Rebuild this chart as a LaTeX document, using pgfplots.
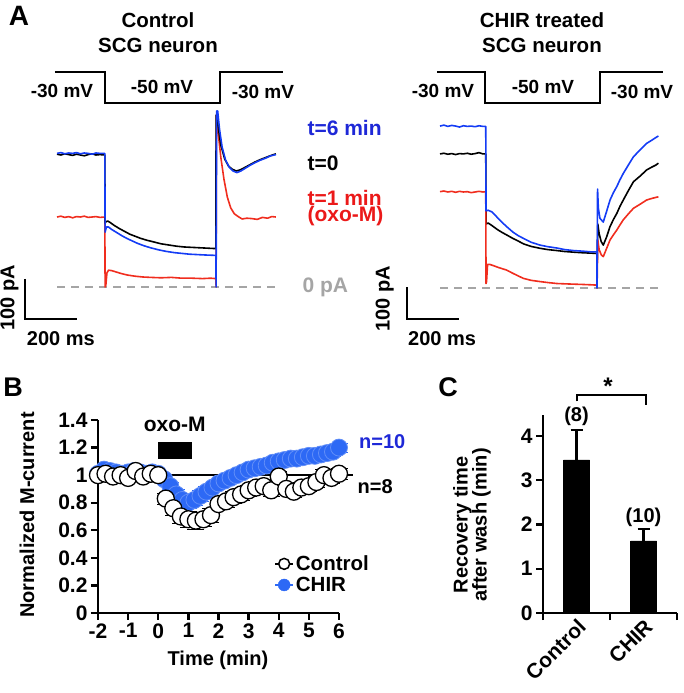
\documentclass[border=0pt]{standalone}
\usepackage{fontspec}
\setmainfont{Liberation Sans}
\usepackage{pgfplots}
\pgfplotsset{compat=1.18}

\definecolor{tblue}{RGB}{20,60,245}
\definecolor{tred}{RGB}{240,45,30}
\definecolor{lblue}{RGB}{30,40,215}
\definecolor{lred}{RGB}{235,25,25}
\definecolor{zgray}{RGB}{165,165,165}
\definecolor{mblue}{RGB}{45,105,245}

\newcommand{\fs}[1]{\fontsize{#1}{#1}\selectfont}

\pgfplotsset{
  trace/.style={hide axis, clip=false, anchor=south west, x=0.26pt},
  tr/.style={line width=1.6pt, line join=round},
  panel/.style={
    clip=false, anchor=south west,
    axis x line*=bottom, axis y line*=left,
    axis line style={line width=2.4pt},
    tick align=outside, major tick length=7pt,
    every tick/.style={line width=2.4pt, black},
    tick label style={font=\bfseries\fs{21}},
    /pgf/number format/assume math mode=true,
  },
}

\begin{document}
\begin{tikzpicture}[x=1pt, y=1pt, font=\bfseries\fs{20}]
\useasboundingbox (0,0) rectangle (684,693);

% ---------------- panel A, left ----------------
\node[font=\bfseries\fs{28}] at (19,677) {A};
\node[font=\bfseries\fs{20.5}] at (158,673) {Control};
\node[font=\bfseries\fs{20.5}] at (158,648) {SCG neuron};

\begin{axis}[trace, at={(57pt,590pt)}, xmin=0, xmax=842, ymin=-50, ymax=-30, y=1.55pt]
\addplot[line width=1.8pt] coordinates {(-8,-30) (185,-30) (185,-50) (627,-50) (627,-30) (869,-30)};
\node[font=\bfseries\fs{19}] at (axis cs:19,-42.3) {-30 mV};
\node[font=\bfseries\fs{19}] at (axis cs:404,-39.7) {-50 mV};
\node[font=\bfseries\fs{19}] at (axis cs:792,-43) {-30 mV};
\end{axis}

\begin{axis}[trace, at={(57pt,406pt)}, xmin=0, xmax=842, ymin=0, ymax=430, y=0.4pt]
\addplot[zgray, line width=2pt, dash pattern=on 8pt off 6pt] coordinates {(0,0) (842,0)};
\addplot[tr, tred] table {
0 175
15 177
30 174
45 176
60 173
75 176
90 175
105 177
120 174
135 175
150 176
165 174
184 175
185 0
188 5
192 35
198 42
210 41
225 38
245 34
270 30
300 27
330 25
360 24
400 23
440 24
480 22
520 22
560 21
590 22
611 21
612 0
613 430
620 385
630 325
642 270
655 225
668 198
682 183
697 176
712 170
730 172
750 171
770 169
790 174
810 172
826 176
842 175
};
\addplot[tr, black] table {
0 332
15 330
30 333
45 331
60 329
75 332
90 330
105 328
120 331
135 333
150 330
165 331
184 330
185 160
188 163
195 165
205 161
220 154
240 146
260 139
280 132
300 127
320 122
345 117
370 113
400 108
430 105
460 102
490 100
520 99
550 98
580 97
611 96
612 430
620 400
630 355
645 320
660 302
675 294
690 290
705 293
720 298
740 305
760 312
780 318
800 323
820 328
842 333
};
\addplot[tr, tblue] table {
0 334
15 336
30 333
45 335
60 334
75 336
90 333
105 335
120 334
135 332
150 335
165 334
184 334
185 137
190 150
198 150
210 144
230 136
250 128
270 121
290 115
310 109
335 103
360 98
390 93
420 89
450 86
480 84
510 82
540 81
570 80
611 79
612 0
614 440
618 440
625 395
635 350
648 318
662 300
677 290
692 286
707 290
722 296
742 304
762 311
782 317
802 322
822 328
842 331
};
% scale bars
\addplot[line width=2.2pt] coordinates {(-123,20) (-123,-80) (77,-80)};
\node[rotate=90] at (axis cs:-183,-27) {100 pA};
\node at (axis cs:15,-128) {200 ms};
\end{axis}

\node[anchor=west, text=lblue, font=\bfseries\fs{21}] at (304,565) {t=6 min};
\node[anchor=west, text=black, font=\bfseries\fs{21}] at (304,530) {t=0};
\node[anchor=west, text=lred, font=\bfseries\fs{21}] at (304,495) {t=1 min};
\node[anchor=west, text=lred, font=\bfseries\fs{21}] at (304,477) {(oxo-M)};
\node[anchor=west, text=zgray, font=\bfseries\fs{21}] at (299,406) {0 pA};

% ---------------- panel A, right ----------------
\node[font=\bfseries\fs{20.5}] at (542,673) {CHIR treated};
\node[font=\bfseries\fs{20.5}] at (542,648) {SCG neuron};

\begin{axis}[trace, at={(440pt,590pt)}, xmin=0, xmax=838, ymin=-50, ymax=-30, y=1.55pt]
\addplot[line width=1.8pt] coordinates {(-11.5,-30) (173,-30) (173,-50) (615,-50) (615,-30) (858,-30)};
\node[font=\bfseries\fs{19}] at (axis cs:11.5,-42) {-30 mV};
\node[font=\bfseries\fs{19}] at (axis cs:396,-39.7) {-50 mV};
\node[font=\bfseries\fs{19}] at (axis cs:777,-43) {-30 mV};
\end{axis}

\begin{axis}[trace, at={(440pt,405pt)}, xmin=0, xmax=838, ymin=0, ymax=520, y=0.32pt]
\addplot[zgray, line width=2pt, dash pattern=on 8pt off 6pt] coordinates {(0,0) (838,0)};
\addplot[tr, black] table {
0 419
15 421
30 418
45 420
60 417
75 420
90 419
105 421
120 418
135 420
150 423
165 419
176 419
177 200
185 203
200 195
220 183
240 173
256 166
280 155
300 147
321 138
350 130
385 124
415 120
449 117
480 114
513 112
550 110
580 109
603 108
604 60
607 200
612 170
620 145
628 134
641 160
654 192
667 214
680 233
692 255
705 275
725 305
744 332
770 350
795 369
815 378
830 384
840 390
};
\addplot[tr, tred] table {
0 301
15 303
30 300
45 302
60 299
75 302
90 300
105 301
120 298
135 300
150 302
165 300
176 301
177 14
179 20
183 74
190 74
205 70
225 64
256 56
280 46
300 38
321 30
350 24
385 20
415 17
449 14
480 13
513 12
550 11
580 10
603 9
604 0
607 150
612 120
620 104
628 98
641 124
654 150
667 166
680 181
692 197
705 213
725 232
744 249
770 262
795 275
815 280
830 283
840 285
};
\addplot[tr, tblue] table {
0 506
15 509
30 505
45 508
60 506
75 503
90 507
105 505
120 506
135 504
150 507
165 505
176 505
177 241
185 243
199 238
215 225
235 208
256 192
280 175
300 164
321 155
350 143
385 134
415 129
449 125
480 120
513 117
550 115
580 113
603 113
604 0
606 309
609 250
615 218
628 206
641 240
654 275
667 298
680 317
692 338
705 358
725 385
744 410
770 432
795 452
815 462
830 470
840 475
};
\addplot[line width=2.2pt] coordinates {(-127,3) (-127,-97) (73,-97)};
\node[rotate=90] at (axis cs:-213,-34) {100 pA};
\node at (axis cs:8,-158) {200 ms};
\end{axis}

% ---------------- panel B ----------------
\node[font=\bfseries\fs{27}] at (13,306) {B};
\node[rotate=90] at (27,178) {Normalized M-current};
\node at (218,33) {Time (min)};

\begin{axis}[panel, at={(98pt,80pt)}, xmin=-2, xmax=6, ymin=0, ymax=1.4,
  x=30.125pt, y=137.86pt,
  xtick={-2,-1,0,1,2,3,4,5,6},
  ytick={0,0.2,0.4,0.6,0.8,1,1.2,1.4},
  yticklabels={0,0.2,0.4,0.6,0.8,1,1.2,1.4},
  legend style={draw=none, fill=none, at={(axis cs:3.85,0.13)}, anchor=south west,
    font=\bfseries\fs{20.5}, row sep=1pt, inner sep=0pt},
  legend cell align=left]
\addplot[forget plot, only marks, mark=*, mark size=8.5pt,
  mark options={fill=mblue, draw=mblue!75!white, line width=0.8pt},
  error bars/.cd, y dir=both, y explicit, error bar style={mblue, line width=1.5pt}]
  table[y error index=2] {
-2.0 1.01 0.02
-1.8 1.04 0.02
-1.6 1.03 0.02
-1.4 1.02 0.02
-1.2 1.01 0.02
-1.0 1.02 0.02
-0.8 1.03 0.02
-0.6 1.02 0.02
-0.4 1.01 0.02
-0.2 1.02 0.02
0.0 1.01 0.02
0.2 0.97 0.03
0.4 0.92 0.03
0.6 0.86 0.04
0.8 0.82 0.04
1.0 0.80 0.04
1.2 0.82 0.04
1.4 0.85 0.04
1.6 0.88 0.04
1.8 0.91 0.03
2.0 0.94 0.03
2.2 0.96 0.03
2.4 0.98 0.03
2.6 1.00 0.03
2.8 1.02 0.03
3.0 1.04 0.03
3.2 1.05 0.03
3.4 1.06 0.03
3.6 1.07 0.03
3.8 1.09 0.03
4.0 1.10 0.03
4.2 1.11 0.03
4.4 1.12 0.03
4.6 1.12 0.03
4.8 1.13 0.03
5.0 1.14 0.03
5.2 1.14 0.03
5.4 1.15 0.03
5.6 1.16 0.03
5.8 1.17 0.03
6.0 1.20 0.03
};
\addplot[forget plot, line width=2.2pt] coordinates {(-2,1) (6.45,1)};
\addplot[forget plot, only marks, mark=*, mark size=8.5pt,
  mark options={fill=white, draw=black, line width=1.3pt},
  error bars/.cd, y dir=both, y explicit, error bar style={black, line width=1.5pt}]
  table[y error index=2] {
-2.00 1.00 0.02
-1.75 1.01 0.02
-1.50 0.99 0.02
-1.25 1.00 0.02
-1.00 0.98 0.02
-0.75 1.03 0.02
-0.50 0.99 0.02
-0.25 1.01 0.02
0.00 1.00 0.02
0.25 0.83 0.04
0.50 0.76 0.05
0.75 0.70 0.05
1.00 0.68 0.06
1.25 0.67 0.06
1.50 0.68 0.05
1.75 0.71 0.05
2.00 0.79 0.04
2.25 0.81 0.04
2.50 0.84 0.04
2.75 0.86 0.04
3.00 0.89 0.04
3.25 0.91 0.04
3.50 0.92 0.04
3.75 0.89 0.04
4.00 0.99 0.04
4.25 0.90 0.04
4.50 0.88 0.04
4.75 0.91 0.04
5.00 0.92 0.04
5.25 0.95 0.04
5.50 1.00 0.04
5.75 0.98 0.04
6.00 1.01 0.04
};
% oxo-M application bar
\addplot[forget plot, fill=black, draw=black] coordinates {(0,1.12) (1.1,1.12) (1.1,1.24) (0,1.24)} -- cycle;
\node[font=\bfseries\fs{21}] at (axis cs:0.55,1.37) {oxo-M};
\node[anchor=west, text=lblue] at (axis cs:6.55,1.24) {n=10};
\node[anchor=west, text=black] at (axis cs:6.5,0.92) {n=8};
\addlegendimage{legend image code/.code={
  \draw[black, line width=1.5pt] (0pt,0pt) -- (18pt,0pt);
  \draw[black, fill=white, line width=1.5pt] (9pt,0pt) circle (5.5pt);}}
\addlegendimage{legend image code/.code={
  \draw[mblue, line width=1.5pt] (0pt,0pt) -- (18pt,0pt);
  \fill[mblue] (9pt,0pt) circle (6pt);}}
\legend{Control,CHIR}
\end{axis}

% ---------------- panel C ----------------
\node[font=\bfseries\fs{27}] at (448,306) {C};
\node[rotate=90, align=center, font=\bfseries\fs{20}] at (472,168) {Recovery time\\[-1pt]after wash (min)};

\begin{axis}[panel, at={(543pt,80pt)}, xmin=0, xmax=4, ymin=0, ymax=4.47,
  x=33.5pt, y=44.25pt,
  xtick={0,2,4}, xticklabels={},
  ytick={0,1,2,3,4},
  extra x ticks={1,3}, extra x tick labels={Control,CHIR},
  extra x tick style={major tick length=0pt,
    tick label style={rotate=45, anchor=north east, font=\bfseries\fs{21}}}]
\addplot[ybar, bar width=26pt, fill=black, draw=black,
  error bars/.cd, y dir=plus, y explicit,
  error bar style={line width=2.4pt},
  error mark options={rotate=90, mark size=6pt, line width=2.4pt}]
  coordinates {(1,3.46) +- (0,0.68) (3,1.63) +- (0,0.27)};
\node at (axis cs:1,4.45) {(8)};
\node at (axis cs:3,2.17) {(10)};
\addplot[line width=2pt] coordinates {(1.02,4.78) (1.02,4.93) (3.08,4.93) (3.08,4.70)};
\node[font=\bfseries\fs{24}] at (axis cs:1.94,5.12) {*};
\end{axis}
\end{tikzpicture}
\end{document}
